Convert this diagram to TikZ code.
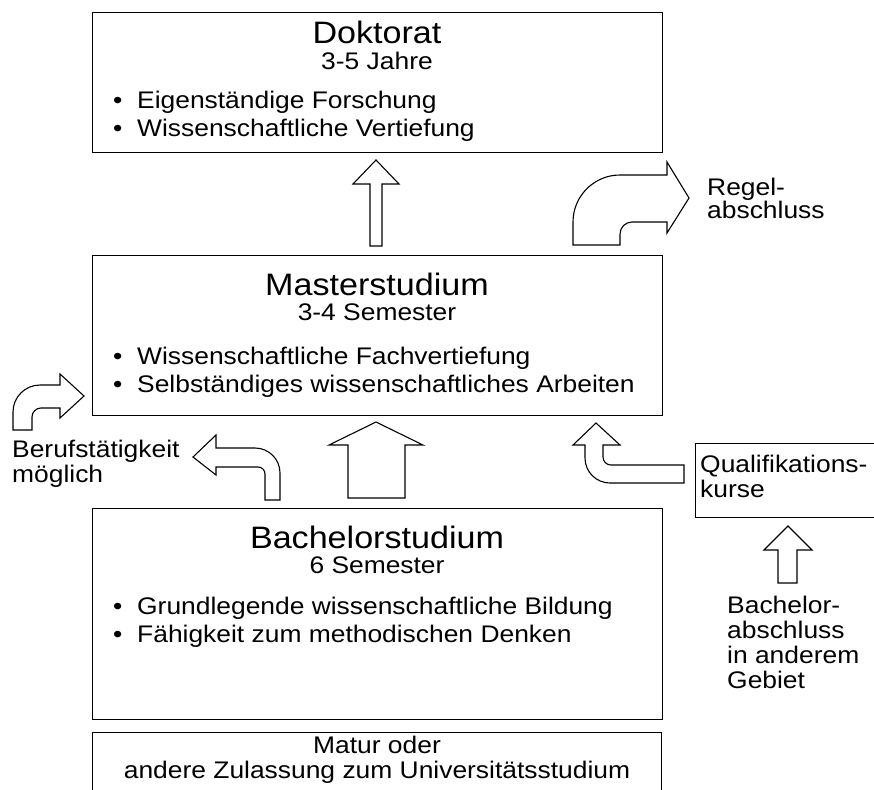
\documentclass[tikz,border=0pt]{standalone}
\usepackage{fontspec}
\setmainfont[FakeStretch=1.1]{Liberation Sans}
\begin{document}
\begin{tikzpicture}[x=1pt,y=-1pt,
  box/.style={draw, line width=1.4pt, inner sep=0pt},
  arr/.style={draw, line width=1.1pt, fill=white, line join=miter},
  ttl/.style={anchor=base, inner sep=0pt, text height=23pt, text depth=1pt, font=\fontsize{31}{31}\selectfont},
  txt/.style={anchor=base, inner sep=0pt, text height=17pt, text depth=5pt, font=\fontsize{24}{25}\selectfont},
  lft/.style={anchor=base west, inner sep=0pt, text height=17pt, text depth=5pt, font=\fontsize{24}{25}\selectfont}]
\useasboundingbox (0,0) rectangle (874,789);
% boxes
\node[box, anchor=north west, minimum width=570pt, minimum height=140pt] (dok) at (92,12) {};
\node[box, anchor=north west, minimum width=570pt, minimum height=160pt] (mas) at (92,255) {};
\node[box, anchor=north west, minimum width=570pt, minimum height=211pt] (bac) at (92,508) {};
\node[box, anchor=north west, minimum width=569pt, minimum height=80pt] (mat) at (92,732) {};
\node[box, anchor=north west, minimum width=180pt, minimum height=74pt] (qua) at (695,443) {};
% Doktorat
\node[ttl] (dokT) at (377,44) {Doktorat};
\node[txt] (dokS) at (377,70) {3-5 Jahre};
\node[lft] (dokB1) at (113,108) {•};
\node[lft] (dokL1) at (137,108) {Eigenständige Forschung};
\node[lft] (dokB2) at (113,136) {•};
\node[lft] (dokL2) at (137,136) {Wissenschaftliche Vertiefung};
% Master
\node[ttl] (masT) at (377,295) {Masterstudium};
\node[txt] (masS) at (377,320) {3-4 Semester};
\node[lft] (masB1) at (113,364) {•};
\node[lft] (masL1) at (137,364) {Wissenschaftliche Fachvertiefung};
\node[lft] (masB2) at (113,392) {•};
\node[lft] (masL2) at (137,392) {Selbständiges wissenschaftliches Arbeiten};
% Bachelor
\node[ttl] (bacT) at (377,548) {Bachelorstudium};
\node[txt] (bacS) at (377,573) {6 Semester};
\node[lft] (bacB1) at (113,614) {•};
\node[lft] (bacL1) at (137,614) {Grundlegende wissenschaftliche Bildung};
\node[lft] (bacB2) at (113,642) {•};
\node[lft] (bacL2) at (137,642) {Fähigkeit zum methodischen Denken};
% Matur
\node[txt] (matL1) at (377,753) {Matur oder};
\node[txt] (matL2) at (377,778) {andere Zulassung zum Universitätsstudium};
% side labels
\node[lft] (reg1) at (707,195) {Regel-};
\node[lft] (reg2) at (707,218) {abschluss};
\node[lft] (ber1) at (12,457) {Berufstätigkeit};
\node[lft] (ber2) at (12,482) {möglich};
\node[lft] (qua1) at (700,472) {Qualifikations-};
\node[lft] (qua2) at (700,497) {kurse};
\node[lft] (ba1) at (727,613) {Bachelor-};
\node[lft] (ba2) at (727,638) {abschluss};
\node[lft] (ba3) at (727,663) {in anderem};
\node[lft] (ba4) at (727,688) {Gebiet};
% block arrows
\draw[arr] (370,246) -- (370,184) -- (353,184) -- (376,160) -- (399,184) -- (382,184) -- (382,246) -- cycle;
\draw[arr] (348,498) -- (348,445) -- (329,445) -- (376,422) -- (423,445) -- (405,445) -- (405,498) -- cycle;
\draw[arr] (573,245) -- (573,222) arc[start angle=180,end angle=270,radius=47] -- (667,175) -- (667,162) -- (689,198) -- (667,233) -- (667,222) -- (632,222) arc[start angle=270,end angle=180,radius=12] -- (620,245) -- cycle;
\draw[arr] (13,430) -- (13,412) arc[start angle=180,end angle=270,radius=27] -- (60,385) -- (60,374) -- (84,396) -- (60,418) -- (60,408) -- (41,408) arc[start angle=270,end angle=180,radius=9] -- (32,430) -- cycle;
\draw[arr] (216,448) -- (255,448) arc[start angle=270,end angle=360,radius=25] -- (280,500) -- (265,500) -- (265,474) arc[start angle=0,end angle=-90,radius=7] -- (216,467) -- (216,475) -- (193,457) -- (216,435) -- cycle;
\draw[arr] (585,445) -- (585,458) arc[start angle=180,end angle=90,radius=25] -- (684,483) -- (684,465) -- (611,465) arc[start angle=90,end angle=180,radius=8] -- (603,445) -- (620,445) -- (596,423) -- (573,445) -- cycle;
\draw[arr] (778,583) -- (778,550) -- (764,550) -- (788,526) -- (812,550) -- (797,550) -- (797,583) -- cycle;
\end{tikzpicture}
\end{document}
